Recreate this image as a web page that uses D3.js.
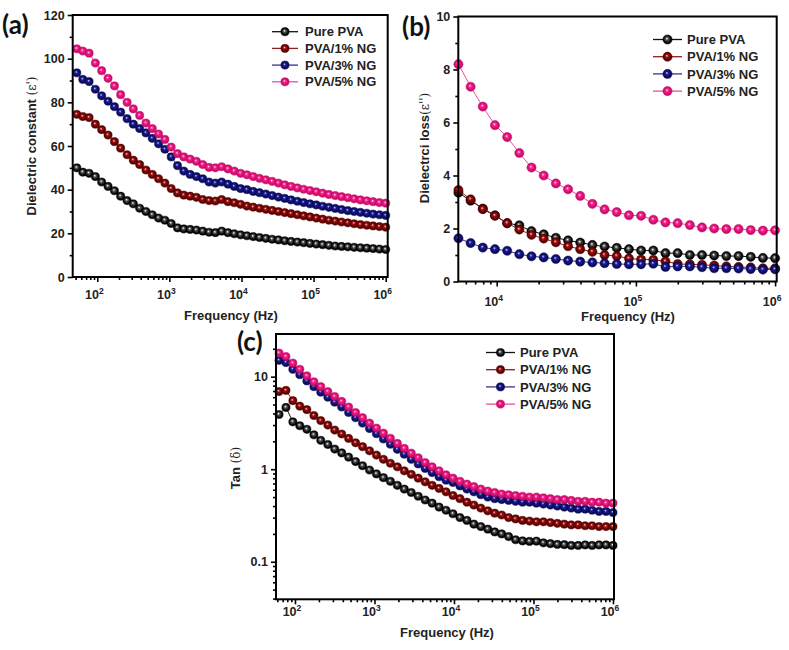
<!DOCTYPE html>
<html><head><meta charset="utf-8">
<script src="https://cdn.jsdelivr.net/npm/d3@7"></script>
<style>body{margin:0;background:#fff}svg{display:block}</style>
</head><body>
<svg id="chart" width="789" height="650"></svg>
<script>
// ---------------- DATA ----------------
const seriesNames = ["Pure PVA", "PVA/1% NG", "PVA/3% NG", "PVA/5% NG"];
// measurement frequencies (Hz), ascending
const freqHz = [52, 63, 77, 94, 115, 141, 173, 211, 259, 316, 387, 473, 579, 708, 866,
  1059, 1296, 1585, 1939, 2371, 2901, 3548, 4341, 5309, 6494, 7943, 9716, 11890, 14540,
  17780, 21760, 26610, 32550, 39810, 48700, 59570, 72870, 89130, 109000, 133400, 163100,
  199500, 244100, 298500, 365200, 446700, 546400, 668300, 817600, 1000000];

// (a) dielectric constant, all 50 frequencies
const epsPure = [50, 48, 47.5, 46, 43.5, 41.5, 39.5, 37, 35, 33.5, 31.5, 30, 28.5, 27, 26, 24.5, 22.5, 22, 21.8, 21.5, 21, 20.5, 20.3, 21, 20.3, 19.8, 19.3, 18.9, 18.5, 18.1, 17.7, 17.3, 17, 16.6, 16.3, 16, 15.7, 15.4, 15.1, 14.8, 14.5, 14.2, 14, 13.8, 13.6, 13.4, 13.2, 13, 12.8, 12.6];
const eps1NG = [74.5, 73.5, 73, 70, 67.5, 65, 62, 59, 56, 53.5, 51.5, 49, 47, 45, 43, 40.5, 38.5, 37.5, 37, 36.5, 35.5, 35, 34.8, 35.5, 34.5, 34, 33.3, 32.5, 32, 31.5, 31, 30.5, 30, 29.5, 29, 28.5, 28, 27.5, 27, 26.5, 26, 25.6, 25.2, 24.8, 24.4, 24, 23.7, 23.4, 23.1, 22.8];
const eps3NG = [93.5, 90.5, 89.5, 86, 83, 80.5, 78, 75.5, 72.5, 70, 68, 66, 63.5, 61, 58.5, 55, 51, 48.5, 47, 46, 45, 43.5, 43, 43.5, 42.5, 41.5, 40.5, 40, 39.2, 38.6, 38, 37.3, 36.6, 36, 35.3, 34.7, 34.1, 33.5, 33, 32.4, 31.9, 31.4, 30.9, 30.4, 30, 29.6, 29.2, 28.8, 28.5, 28.2];
const eps5NG = [104.5, 103.5, 102.5, 98, 94.5, 91, 87.5, 83.5, 80, 77, 74, 70.5, 68, 65.5, 63, 59.5, 56.5, 55, 54, 53, 51.5, 50.2, 50, 50.5, 49.5, 48.5, 47.5, 46.8, 46, 45.2, 44.5, 43.8, 43, 42.2, 41.5, 40.8, 40.2, 39.6, 39, 38.4, 37.8, 37.3, 36.8, 36.3, 35.8, 35.3, 34.9, 34.5, 34.1, 33.8];

// (b) dielectric loss, frequencies 5309 Hz .. 1 MHz
const lossPure = [3.35, 3.05, 2.75, 2.5, 2.2, 2.12, 1.9, 1.78, 1.65, 1.55, 1.47, 1.38, 1.32, 1.27, 1.22, 1.17, 1.17, 1.07, 1.07, 1.0, 1.0, 0.98, 0.96, 0.96, 0.93, 0.89, 0.88];
const loss1NG = [3.45, 3.1, 2.73, 2.48, 2.2, 1.96, 1.76, 1.62, 1.48, 1.33, 1.22, 1.12, 1.0, 0.96, 0.87, 0.83, 0.82, 0.76, 0.66, 0.65, 0.63, 0.6, 0.57, 0.55, 0.53, 0.5, 0.5];
const loss3NG = [1.63, 1.45, 1.28, 1.22, 1.16, 1.03, 0.95, 0.91, 0.85, 0.79, 0.75, 0.72, 0.69, 0.66, 0.65, 0.65, 0.67, 0.55, 0.57, 0.57, 0.54, 0.5, 0.5, 0.49, 0.47, 0.45, 0.46];
const loss5NG = [8.2, 7.35, 6.6, 5.9, 5.45, 4.85, 4.3, 4.0, 3.7, 3.48, 3.23, 2.93, 2.72, 2.62, 2.5, 2.48, 2.33, 2.23, 2.2, 2.13, 2.04, 2.0, 1.98, 1.98, 1.94, 1.92, 1.93];

// (c) tan delta, frequencies 63 Hz .. 1 MHz
const tanPure = [3.9, 4.65, 3.25, 2.95, 2.7, 2.35, 2.05, 1.85, 1.65, 1.5, 1.35, 1.21, 1.09, 0.98, 0.89, 0.81, 0.74, 0.67, 0.61, 0.56, 0.51, 0.465, 0.43, 0.39, 0.36, 0.33, 0.3, 0.28, 0.255, 0.24, 0.225, 0.21, 0.2, 0.187, 0.173, 0.168, 0.166, 0.167, 0.16, 0.157, 0.154, 0.153, 0.15, 0.15, 0.152, 0.15, 0.152, 0.152, 0.15];
const tan1NG = [6.9, 7.1, 5.5, 4.8, 4.4, 3.8, 3.35, 3.0, 2.65, 2.4, 2.15, 1.93, 1.75, 1.58, 1.42, 1.28, 1.16, 1.06, 0.96, 0.88, 0.8, 0.73, 0.67, 0.62, 0.57, 0.52, 0.48, 0.44, 0.41, 0.38, 0.355, 0.335, 0.32, 0.3, 0.29, 0.28, 0.275, 0.27, 0.27, 0.265, 0.26, 0.255, 0.25, 0.25, 0.245, 0.245, 0.24, 0.24, 0.24];
const tan3NG = [15, 14.2, 12, 10.5, 9, 7.8, 6.8, 6, 5.3, 4.7, 4.1, 3.6, 3.15, 2.75, 2.42, 2.12, 1.86, 1.64, 1.45, 1.28, 1.14, 1.02, 0.92, 0.83, 0.76, 0.72, 0.66, 0.61, 0.57, 0.53, 0.5, 0.48, 0.47, 0.46, 0.45, 0.44, 0.44, 0.43, 0.42, 0.41, 0.4, 0.39, 0.38, 0.37, 0.37, 0.36, 0.35, 0.35, 0.34];
const tan5NG = [18, 16.5, 14, 12, 10.2, 8.8, 7.8, 6.9, 6.1, 5.4, 4.7, 4.1, 3.6, 3.15, 2.78, 2.45, 2.16, 1.9, 1.68, 1.49, 1.33, 1.18, 1.06, 0.96, 0.87, 0.8, 0.74, 0.69, 0.65, 0.61, 0.58, 0.56, 0.54, 0.53, 0.52, 0.51, 0.5, 0.5, 0.49, 0.48, 0.47, 0.47, 0.46, 0.45, 0.45, 0.44, 0.44, 0.43, 0.43];

// tick values / labels
const xTickExpA = [2, 3, 4, 5, 6];
const xTickExpB = [4, 5, 6];
const xTickExpC = [2, 3, 4, 5, 6];
const yTicksA = [0, 20, 40, 60, 80, 100, 120];
const yTickLabelsA = ["0", "20", "40", "60", "80", "100", "120"];
const yTicksB = [0, 2, 4, 6, 8, 10];
const yTickLabelsB = ["0", "2", "4", "6", "8", "10"];
const yTicksC = [0.1, 1, 10];
const yTickLabelsC = ["0.1", "1", "10"];

// ---------------- STYLE ----------------
const markerColors = [
  {id: "k", c0: "#ffffff", c1: "#505050", c2: "#000000", line: "#111111", stroke: "#000"},
  {id: "r", c0: "#ffd0d0", c1: "#a01010", c2: "#560000", line: "#8a2020", stroke: "#560000"},
  {id: "b", c0: "#d0d0ff", c1: "#1c1c9c", c2: "#0a0a55", line: "#34348c", stroke: "#0a0a55"},
  {id: "p", c0: "#ffe0f0", c1: "#ff2090", c2: "#c40e68", line: "#e8509a", stroke: "#c40e68"}
];
const FONT = "'Liberation Sans', Arial, Helvetica, sans-serif";

const svg = d3.select("#chart");
svg.append("rect").attr("width", 789).attr("height", 650).attr("fill", "#fff");
const defs = svg.append("defs");
markerColors.forEach(m => {
  const gr = defs.append("radialGradient").attr("id", "ball-" + m.id)
    .attr("cx", "0.5").attr("cy", "0.5").attr("r", "0.55").attr("fx", "0.42").attr("fy", "0.38");
  gr.append("stop").attr("offset", "0%").attr("stop-color", m.c0);
  gr.append("stop").attr("offset", "30%").attr("stop-color", m.c1);
  gr.append("stop").attr("offset", "75%").attr("stop-color", m.c2);
  gr.append("stop").attr("offset", "100%").attr("stop-color", m.c2);
});

function minorLog(lo, hi) {
  const out = [];
  for (let e = Math.floor(Math.log10(lo)); e <= Math.ceil(Math.log10(hi)); e++) {
    for (let m = 2; m <= 9; m++) {
      const v = m * Math.pow(10, e);
      if (v > lo && v < hi) out.push(v);
    }
  }
  return out;
}

function drawPanel(p) {
  const g = svg.append("g");
  const x = d3.scaleLog().domain(p.xDomain).range([p.left, p.right]);
  const y = (p.yLog ? d3.scaleLog() : d3.scaleLinear()).domain(p.yDomain).range([p.bottom, p.top]);

  const tickStyle = sel => {
    sel.select(".domain").remove();
    sel.selectAll(".tick line").attr("stroke", "#000").attr("stroke-width", 1.6);
  };
  const xMajor = p.xTickExp.map(e => Math.pow(10, e));
  g.append("g").attr("transform", `translate(0,${p.bottom})`)
    .call(d3.axisBottom(x).tickValues(xMajor).tickSize(5).tickFormat(() => ""))
    .call(tickStyle);
  g.append("g").attr("transform", `translate(0,${p.bottom})`)
    .call(d3.axisBottom(x).tickValues(minorLog(p.xDomain[0], p.xDomain[1])).tickSize(3).tickFormat(() => ""))
    .call(tickStyle);
  const xl = g.append("g").selectAll("text").data(p.xTickExp).join("text")
    .attr("x", d => x(Math.pow(10, d)) - 3)
    .attr("y", p.bottom + p.xLabelOff)
    .attr("text-anchor", "middle")
    .attr("font-family", FONT).attr("font-weight", "bold").attr("font-size", 12.5)
    .attr("fill", "#222");
  xl.append("tspan").text("10");
  xl.append("tspan").attr("dy", -5).attr("font-size", 8.5).text(d => d);

  const yAx = d3.axisLeft(y).tickValues(p.yTicks).tickSize(5).tickPadding(3)
    .tickFormat((d, i) => p.yTickLabels[i]);
  const ya = g.append("g").attr("transform", `translate(${p.left},0)`).call(yAx).call(tickStyle);
  ya.selectAll("text").attr("font-family", FONT).attr("font-weight", "bold")
    .attr("font-size", 12.5).attr("fill", "#222");
  g.append("g").attr("transform", `translate(${p.left},0)`)
    .call(d3.axisLeft(y).tickValues(p.yMinor).tickSize(3).tickFormat(() => ""))
    .call(tickStyle);

  p.series.forEach((vals, k) => {
    const m = markerColors[k];
    const pts = vals.map((v, i) => [p.freqs[i], v]);
    g.append("path")
      .attr("d", d3.line().x(d => x(d[0])).y(d => y(d[1]))(pts))
      .attr("fill", "none").attr("stroke", m.line).attr("stroke-width", 1);
    g.append("g").selectAll("circle").data(pts).join("circle")
      .attr("cx", d => x(d[0])).attr("cy", d => y(d[1])).attr("r", p.r)
      .attr("fill", `url(#ball-${m.id})`).attr("stroke", m.stroke).attr("stroke-width", 0.5);
  });

  g.append("rect").attr("x", p.left).attr("y", p.top)
    .attr("width", p.right - p.left).attr("height", p.bottom - p.top)
    .attr("fill", "none").attr("stroke", "#000").attr("stroke-width", 2);

  seriesNames.forEach((name, k) => {
    const m = markerColors[k];
    const ly = p.leg.y + k * p.leg.dy;
    g.append("line").attr("x1", p.leg.x0).attr("x2", p.leg.x1).attr("y1", ly).attr("y2", ly)
      .attr("stroke", m.line).attr("stroke-width", 1.3);
    g.append("circle").attr("cx", (p.leg.x0 + p.leg.x1) / 2).attr("cy", ly).attr("r", p.r)
      .attr("fill", `url(#ball-${m.id})`).attr("stroke", m.stroke).attr("stroke-width", 0.5);
    g.append("text").attr("x", p.leg.tx).attr("y", ly + 4.6)
      .attr("font-family", FONT).attr("font-weight", "bold").attr("font-size", 13)
      .attr("fill", "#222").text(name);
  });

  g.append("text").attr("x", p.xTitle[0]).attr("y", p.xTitle[1]).attr("text-anchor", "middle")
    .attr("font-family", FONT).attr("font-weight", "bold").attr("font-size", 13).attr("fill", "#222")
    .text("Frequency (Hz)");
  const yt = g.append("text")
    .attr("transform", `translate(${p.yTitle[0]},${p.yTitle[1]}) rotate(-90)`)
    .attr("text-anchor", "middle").attr("font-family", FONT).attr("font-size", 13).attr("fill", "#222");
  yt.append("tspan").attr("font-weight", "bold").text(p.yTitleText[0]);
  yt.append("tspan").attr("font-weight", "normal").attr("font-family", "'DejaVu Serif', serif")
    .attr("font-size", 12).text(p.yTitleText[1]);

  g.append("text").attr("x", p.letter[0]).attr("y", p.letter[1])
    .attr("font-family", "Lato, 'Open Sans', sans-serif").attr("font-weight", "bold")
    .attr("font-size", 26).attr("fill", "#111").text(p.letter[2]);
}

drawPanel({
  left: 72.7, right: 387.7, top: 15, bottom: 277,
  xDomain: [45.6, 1.066e6], yDomain: [0, 120], yLog: false,
  xTickExp: xTickExpA, xLabelOff: 22,
  yTicks: yTicksA, yTickLabels: yTickLabelsA, yMinor: [10, 30, 50, 70, 90, 110],
  freqs: freqHz, series: [epsPure, eps1NG, eps3NG, eps5NG], r: 4.1,
  leg: {x0: 272, x1: 298, tx: 305, y: 31.7, dy: 16.7},
  xTitle: [231, 319.5], yTitle: [36, 146], yTitleText: ["Dielectric constant ", "(ε')"],
  letter: [2, 34, "(a)"]
});

drawPanel({
  left: 458.3, right: 776.7, top: 16.5, bottom: 281.5,
  xDomain: [5297, 1.027e6], yDomain: [0, 10], yLog: false,
  xTickExp: xTickExpB, xLabelOff: 24,
  yTicks: yTicksB, yTickLabels: yTickLabelsB, yMinor: [1, 3, 5, 7, 9],
  freqs: freqHz.slice(23), series: [lossPure, loss1NG, loss3NG, loss5NG], r: 4.6,
  leg: {x0: 653, x1: 682, tx: 687, y: 39.5, dy: 17.2},
  xTitle: [628, 321], yTitle: [429, 148], yTitleText: ["Dielectrci loss", "(ε'')"],
  letter: [402, 36, "(b)"]
});

drawPanel({
  left: 276, right: 614, top: 334, bottom: 599.3,
  xDomain: [57.7, 1.03e6], yDomain: [0.0393, 28.9], yLog: true,
  xTickExp: xTickExpC, xLabelOff: 17,
  yTicks: yTicksC, yTickLabels: yTickLabelsC, yMinor: minorLog(0.0393, 28.9),
  freqs: freqHz.slice(1), series: [tanPure, tan1NG, tan3NG, tan5NG], r: 4.1,
  leg: {x0: 486, x1: 515, tx: 520, y: 352.5, dy: 17.2},
  xTitle: [447, 637], yTitle: [240, 468], yTitleText: ["Tan ", "(δ)"],
  letter: [237, 351, "(c)"]
});
</script>
</body></html>
